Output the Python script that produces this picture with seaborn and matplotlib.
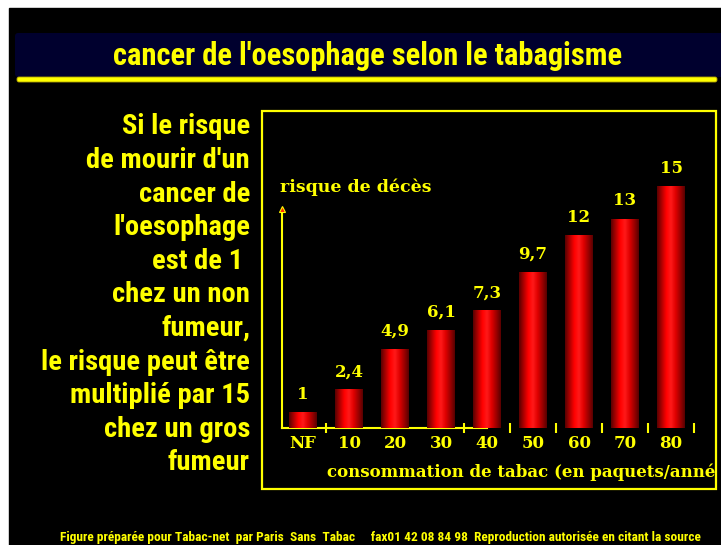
import numpy as np
import matplotlib
matplotlib.use("Agg")
import matplotlib.pyplot as plt
import seaborn as sns
from matplotlib import font_manager as fm
from matplotlib.colors import LinearSegmentedColormap
from matplotlib.patches import Rectangle, FancyBboxPatch
from matplotlib.transforms import Bbox, TransformedBbox

# data
categories = ["NF", "10", "20", "30", "40", "50", "60", "70", "80"]
risk = [1, 2.4, 4.9, 6.1, 7.3, 9.7, 12, 13, 15]
risk_labels = ["1", "2,4", "4,9", "6,1", "7,3", "9,7", "12", "13", "15"]

title = "cancer de l'oesophage selon le tabagisme"
side_lines = ["Si le risque", "de mourir d'un", "cancer de", "l'oesophage",
              "est de 1 ", "chez un non", "fumeur,", "le risque peut être",
              "multiplié par 15", "chez un gros", "fumeur"]
ylabel = "risque de décès"
xlabel = "consommation de tabac (en paquets/année)"
footer = ("Figure préparée pour Tabac-net  par Paris  Sans  Tabac     "
          "fax01 42 08 84 98  Reproduction autorisée en citant la source")

YEL = "#ffff00"
NAVY = "#00002e"

names = set(fm.fontManager.get_font_names())
narrow = next((f for f in ["Liberation Sans Narrow", "DejaVu Sans Condensed",
                           "Roboto Condensed"] if f in names), "Liberation Sans")
serif = "DejaVu Serif"

W, H = 721, 545
fig = plt.figure(figsize=(W / 100, H / 100), dpi=100, facecolor="white")

# background layer in pixel coordinates
bg = fig.add_axes([0, 0, 1, 1])
bg.set_xlim(0, W)
bg.set_ylim(H, 0)
bg.axis("off")
bg.add_patch(Rectangle((9, 8), W, H, color="black"))
bg.add_patch(FancyBboxPatch((15, 33), 720, 44, boxstyle="round,pad=0,rounding_size=3",
                            fc=NAVY, ec="none"))
bg.add_patch(FancyBboxPatch((17, 77), 700, 5, boxstyle="round,pad=0,rounding_size=2",
                            fc=YEL, ec="#b0a000", lw=0.6))
bg.add_patch(Rectangle((262, 111), 454, 378, fill=False, ec=YEL, lw=1.6))

bg.text(368, 56, title, ha="center", va="center", color=YEL, fontsize=22,
        fontweight="bold", family=narrow)
for i, line in enumerate(side_lines):
    bg.text(250, 127 + 33.6 * i, line, ha="right", va="center", color=YEL,
            fontsize=20.5, fontweight="bold", family=narrow)
bg.text(280, 187, ylabel, ha="left", va="center", color=YEL, fontsize=12.5,
        fontweight="bold", family=serif)
# the slide cuts this label at the right edge of the frame
xl = bg.text(327, 472, xlabel, ha="left", va="center", color=YEL, fontsize=12,
             fontweight="bold", family=serif)
xl.set_clip_box(TransformedBbox(Bbox.from_extents(262 / W, 56 / H, 716 / W, 434 / H),
                                fig.transFigure))
xl.set_clip_on(True)
bg.text(60, 537, footer, ha="left", va="center", color=YEL, fontsize=9.6,
        fontweight="bold", family=narrow)

# chart
ax = fig.add_axes([282 / W, (H - 428) / H, (700 - 282) / W, (428 - 170) / H])
ax.set_facecolor("none")
sns.barplot(x=categories, y=risk, color="#e00000", saturation=1, width=0.6, ax=ax,
            zorder=3)

shade = LinearSegmentedColormap.from_list(
    "cyl", ["#5a0000", "#b00000", "#ff0000", "#ff1a1a", "#e00000", "#a00000", "#5a0000"])
grad = np.linspace(0, 1, 64).reshape(1, -1)
for p in list(ax.patches):
    x0, w, h = p.get_x(), p.get_width(), p.get_height()
    im = ax.imshow(grad, extent=[x0, x0 + w, 0, h], aspect="auto", cmap=shade,
                   zorder=3.5, interpolation="bilinear")
    im.set_clip_path(p)

for i, (v, lab) in enumerate(zip(risk, risk_labels)):
    ax.annotate(lab, (i, v), xytext=(0, 9.5), textcoords="offset points",
                ha="center", va="baseline", color=YEL, fontsize=12,
                fontweight="bold", family=serif)

ax.set_xlim(-0.457, 8.63)
ax.set_ylim(0, 16.02)
ax.set_xlabel("")
ax.set_ylabel("")
ax.set_yticks([])
for s in ["top", "right"]:
    ax.spines[s].set_visible(False)
for s in ["left", "bottom"]:
    ax.spines[s].set_color(YEL)
    ax.spines[s].set_linewidth(1.5)
    ax.spines[s].set_zorder(2)
ax.spines["left"].set_bounds(0, 13.5)
ax.spines["bottom"].set_bounds(-0.457, 4.0)

ax.tick_params(axis="x", which="major", length=0, pad=5, colors=YEL)
for t in ax.get_xticklabels():
    t.set_fontfamily(serif)
    t.set_fontweight("bold")
    t.set_fontsize(12)
ax.set_xticks([0.5, 3.5, 4.5, 5.5, 6.5, 7.5, 8.5], minor=True)
ax.tick_params(axis="x", which="minor", direction="inout", length=7, width=1.5,
               color=YEL)
ax.plot([-0.457], [13.6], marker="^", ms=5, mfc="#ff2000", mec=YEL, mew=0.8,
        clip_on=False, zorder=5)

fig.savefig("out.png", dpi=100, facecolor=fig.get_facecolor())
